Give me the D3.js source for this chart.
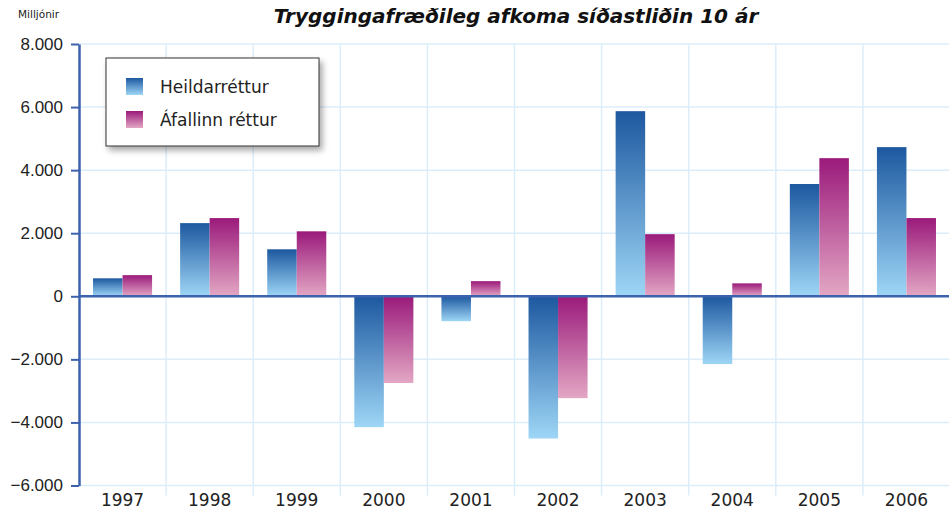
<!DOCTYPE html>
<html>
<head>
<meta charset="utf-8">
<script src="https://cdn.jsdelivr.net/npm/d3@7"></script>
<style>
  body { margin: 0; background: #fff; }
  svg { display: block; font-family: "DejaVu Sans", sans-serif; }
</style>
</head>
<body>
<svg id="chart" width="949" height="513"></svg>
<script>
// Data
const years = ['1997', '1998', '1999', '2000', '2001', '2002', '2003', '2004', '2005', '2006'];
const seriesNames = ['Heildarréttur', 'Áfallinn réttur'];
const heildar = [570, 2320, 1490, -4150, -790, -4510, 5870, -2150, 3560, 4730];
const afallinn = [670, 2480, 2060, -2750, 480, -3230, 1970, 410, 4380, 2480];
const yTicks = [-6000, -4000, -2000, 0, 2000, 4000, 6000, 8000];

const Constants = {
  width: 949,
  height: 513,
  left: 79,
  right: 950,
  top: 44,
  bottom: 485.5,
  gridColor: '#dcedfa',
  axisColor: '#3d62ad',
  textColor: '#222',
  colors: {
    'Heildarréttur': ['#1d58a0', '#9ed6f6'],
    'Áfallinn réttur': ['#9a1a7b', '#e3a7c4'],
  },
};

const svg = d3.select('#chart');
const defs = svg.append('defs');

seriesNames.forEach((name, i) => {
  const g = defs.append('linearGradient')
    .attr('id', `grad-${i}`)
    .attr('x1', 0).attr('y1', 0).attr('x2', 0).attr('y2', 1);
  g.append('stop').attr('offset', '0%').attr('stop-color', Constants.colors[name][0]);
  g.append('stop').attr('offset', '100%').attr('stop-color', Constants.colors[name][1]);
});

const shadow = defs.append('filter').attr('id', 'shadow')
  .attr('x', '-10%').attr('y', '-10%').attr('width', '130%').attr('height', '140%');
shadow.append('feGaussianBlur').attr('in', 'SourceAlpha').attr('stdDeviation', 3);
shadow.append('feOffset').attr('dx', 3).attr('dy', 4).attr('result', 'ob');
shadow.append('feComponentTransfer').append('feFuncA').attr('type', 'linear').attr('slope', 0.35);
const merge = shadow.append('feMerge');
merge.append('feMergeNode');
merge.append('feMergeNode').attr('in', 'SourceGraphic');

// Scales
const x0 = d3.scaleBand().domain(years).range([Constants.left, Constants.right]).padding(0);
const x1 = d3.scaleBand().domain(seriesNames).range([0, x0.bandwidth()]).paddingInner(0).paddingOuter(0.475);
const y = d3.scaleLinear().domain([-6000, 8000]).range([Constants.bottom, Constants.top]);

const fmt = v => d3.format(',')(v).replace(/,/g, '.');

// Grid
svg.append('g')
  .selectAll('line')
  .data(yTicks)
  .join('line')
  .attr('x1', Constants.left).attr('x2', Constants.right)
  .attr('y1', d => y(d)).attr('y2', d => y(d))
  .attr('stroke', Constants.gridColor).attr('stroke-width', 1.5);

svg.append('g')
  .selectAll('line')
  .data(years)
  .join('line')
  .attr('x1', d => x0(d) + x0.bandwidth()).attr('x2', d => x0(d) + x0.bandwidth())
  .attr('y1', Constants.top).attr('y2', Constants.bottom + 10)
  .attr('stroke', Constants.gridColor).attr('stroke-width', 1.5);

// Bars
const rows = years.map((yr, i) => ({ year: yr, values: [heildar[i], afallinn[i]] }));

svg.append('g')
  .selectAll('g')
  .data(rows)
  .join('g')
  .attr('transform', d => `translate(${x0(d.year)},0)`)
  .selectAll('rect')
  .data(d => d.values.map((v, i) => ({ name: seriesNames[i], i, v })))
  .join('rect')
  .attr('x', d => x1(d.name))
  .attr('width', x1.bandwidth())
  .attr('y', d => y(Math.max(0, d.v)))
  .attr('height', d => Math.abs(y(d.v) - y(0)))
  .attr('fill', d => `url(#grad-${d.i})`);

// Zero line
svg.append('line')
  .attr('x1', Constants.left).attr('x2', Constants.right)
  .attr('y1', y(0)).attr('y2', y(0))
  .attr('stroke', Constants.axisColor).attr('stroke-width', 2.5);

// Y axis
const yAxis = svg.append('g')
  .attr('transform', `translate(${Constants.left},0)`)
  .call(d3.axisLeft(y).tickValues(yTicks).tickFormat(fmt).tickSize(8).tickSizeOuter(0));
yAxis.select('.domain').attr('stroke', Constants.axisColor).attr('stroke-width', 2.5);
yAxis.selectAll('.tick line').attr('stroke', Constants.axisColor).attr('stroke-width', 2);
yAxis.selectAll('.tick text')
  .attr('x', -16)
  .attr('fill', Constants.textColor)
  .style('font-size', '17px');

// X labels
svg.append('g')
  .selectAll('text')
  .data(years)
  .join('text')
  .attr('x', d => x0(d) + x0.bandwidth() / 2)
  .attr('y', 506)
  .attr('text-anchor', 'middle')
  .attr('fill', Constants.textColor)
  .style('font-size', '17px')
  .text(d => d);

// Title and unit
svg.append('text')
  .attr('x', 516).attr('y', 23)
  .attr('text-anchor', 'middle')
  .style('font-size', '20px').style('font-weight', 'bold').style('font-style', 'italic')
  .attr('fill', '#111')
  .text('Tryggingafræðileg afkoma síðastliðin 10 ár');

svg.append('text')
  .attr('x', 18).attr('y', 18)
  .style('font-size', '10.5px')
  .attr('fill', Constants.textColor)
  .text('Milljónir');

// Legend
const legend = svg.append('g').attr('transform', 'translate(106,58)');
legend.append('rect')
  .attr('width', 213).attr('height', 88)
  .attr('fill', '#fff').attr('stroke', '#333').attr('stroke-width', 1)
  .attr('filter', 'url(#shadow)');

const items = legend.selectAll('.item')
  .data(seriesNames)
  .join('g')
  .attr('class', 'item')
  .attr('transform', (d, i) => `translate(20,${20 + i * 33})`);
items.append('rect')
  .attr('width', 17).attr('height', 17)
  .attr('fill', (d, i) => `url(#grad-${i})`);
items.append('text')
  .attr('x', 34).attr('y', 15)
  .attr('fill', Constants.textColor)
  .style('font-size', '17px')
  .text(d => d);
</script>
</body>
</html>
